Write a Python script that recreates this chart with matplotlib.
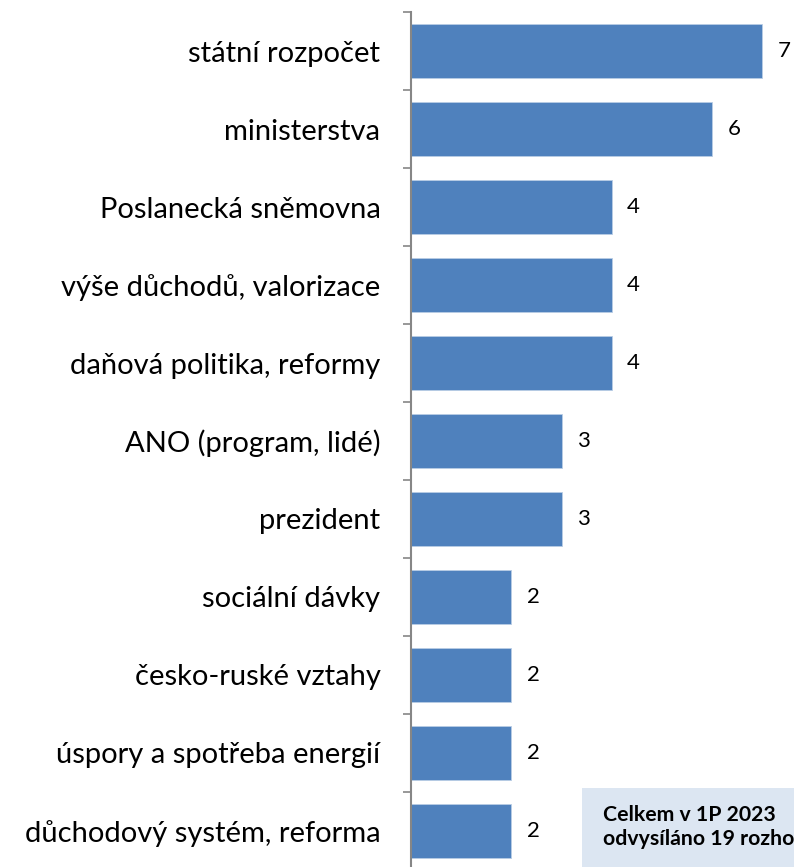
import numpy as np
import matplotlib.pyplot as plt
from matplotlib.patches import Rectangle

plt.rcParams['font.family'] = ['Lato', 'DejaVu Sans']

kategorie = ['státní rozpočet', 'ministerstva', 'Poslanecká sněmovna',
             'výše důchodů, valorizace', 'daňová politika, reformy',
             'ANO (program, lidé)', 'prezident', 'sociální dávky',
             'česko-ruské vztahy', 'úspory a spotřeba energií',
             'důchodový systém, reforma']
hodnoty = [7, 6, 4, 4, 4, 3, 3, 2, 2, 2, 2]
poznamka = 'Celkem v 1P 2023\nodvysíláno 19 rozhovorů'

W, H = 794, 867
fig = plt.figure(figsize=(W / 100, H / 100), dpi=100)
# osa: x od 411 px, kategorie po 78 px od y=12
ax = fig.add_axes([411 / W, (H - 870) / H, (W - 411) / W, 858 / H])

y = np.arange(len(kategorie))
ax.barh(y, hodnoty, height=0.68, color='#4F81BD', edgecolor='#B9CDE5', linewidth=0.6)
ax.set_ylim(len(kategorie) - 0.5, -0.5)
ax.set_xlim(0, (W - 411) / 50.2)

for yi, v in zip(y, hodnoty):
    ax.annotate(str(v), (v, yi), xytext=(11, 0), textcoords='offset points',
                va='center', ha='left', fontsize=16, color='black')

ax.set_yticks(y)
ax.set_yticklabels(kategorie, fontsize=21)
ax.set_yticks(np.arange(len(kategorie) + 1) - 0.5, minor=True)
ax.tick_params(axis='y', which='major', length=0, pad=22)
ax.tick_params(axis='y', which='minor', length=6, width=1.2, color='#868686', direction='out')
ax.set_xticks([])
for s in ['top', 'right', 'bottom']:
    ax.spines[s].set_visible(False)
ax.spines['left'].set_color('#868686')
ax.spines['left'].set_linewidth(1.5)

# rámeček s poznámkou
fig.patches.append(Rectangle((582 / W, 0), 1, (H - 788) / H, transform=fig.transFigure,
                             facecolor='#DCE6F2', edgecolor='none', zorder=0))
fig.text(603 / W, (H - 827) / H, poznamka, fontsize=15.3, fontweight='bold',
         va='center', ha='left', linespacing=1.27)

fig.savefig('out.png', dpi=100)
